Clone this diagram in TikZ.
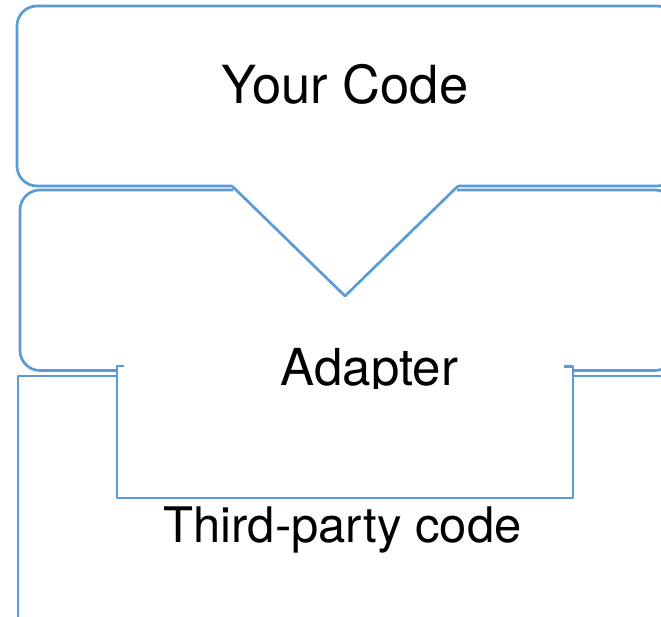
\documentclass[tikz,border=0pt]{standalone}
\usepackage{fontspec}
\setmainfont{TeX Gyre Heros}
\definecolor{edgeblue}{HTML}{5B9BD5}
\tikzset{
  outline/.style={draw=edgeblue, line width=2.7pt, line join=round},
  label/.style={anchor=base, inner sep=0pt, text=black},
}
\begin{document}
\begin{tikzpicture}[x=1pt, y=-1pt]
  \useasboundingbox (0,0) rectangle (661,617);
  \clip (0,0) rectangle (661,617);

  % "Your Code" block with its wedge pointing down into the adapter
  \draw[outline, rounded corners=20pt]
    (232,186) -- (17,186) -- (17,6) -- (677,6) -- (677,186) -- (458,186);
  \draw[outline] (458,186) -- (345,296) -- (232,186);

  % Adapter block: top edge broken by the wedge, bottom with a tab
  \draw[outline, rounded corners=20pt]
    (233,190) -- (20,190) -- (20,370.5) -- (117,370.5);
  \draw[outline, rounded corners=20pt]
    (573,370.5) -- (675,370.5) -- (675,190) -- (457,190);
  \draw[outline] (117,370.5) -- (117,498) -- (573,498) -- (573,370.5);
  \draw[outline] (117,370.5) -- (117,366) -- (124,366);
  \draw[outline] (573,370.5) -- (573,366.5) -- (564,366.5);

  % Third-party block around the tab
  \draw[outline] (18,630) -- (18,376) -- (117,376);
  \draw[outline] (573,376) -- (680,376);

  % labels
  \node[label, font=\fontsize{52.5}{62}\selectfont] (yourcode) at (345,104) {Your Code};
  \begin{scope}
    \clip (120,340) rectangle (570,388);
    \node[label, font=\fontsize{51}{61}\selectfont] (adapter) at (369.5,385) {Adapter};
  \end{scope}
  \node[label, font=\fontsize{49}{58}\selectfont] (thirdparty) at (342.5,542) {Third-party code};
\end{tikzpicture}
\end{document}
